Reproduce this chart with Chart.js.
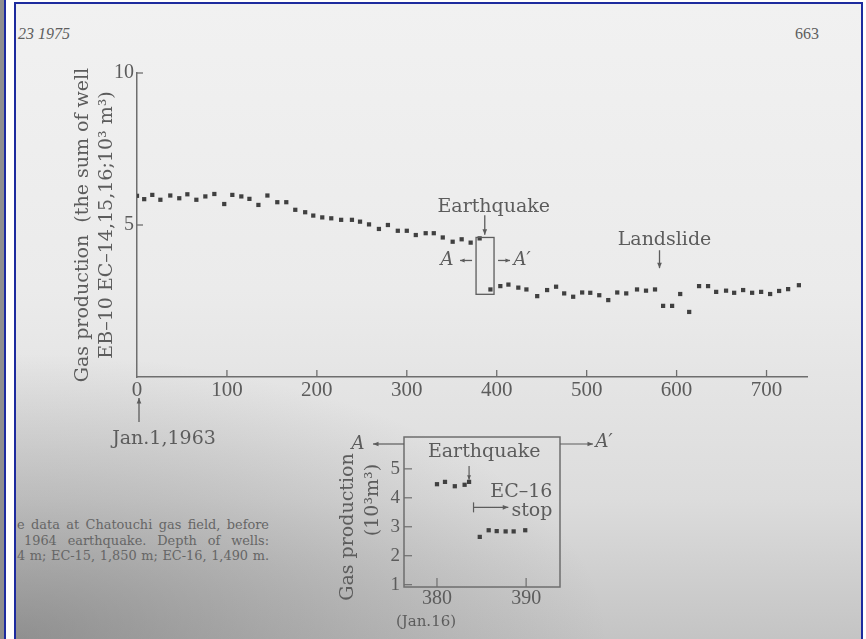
<!DOCTYPE html>
<html lang="en">
<head>
<meta charset="UTF-8">
<title>Gas production at Chatouchi gas field</title>
<script src="https://cdn.jsdelivr.net/npm/chart.js"></script>
<style>
  body { margin: 0; width: 866px; height: 639px; overflow: hidden; position: relative; background: #8e8e8e; }
  #frame { position: absolute; left: 4px; top: 0; width: 862px; height: 639px; background: #fff; border-left: 2px solid #1d2b9e; box-sizing: border-box; }
  #page {
    position: absolute; left: 14px; top: 2px; width: 849px; height: 637px; box-sizing: border-box;
    border: 2px solid #1d2b9e; border-bottom: none;
    background:
      radial-gradient(ellipse 70% 45% at 0% 100%, rgba(80,80,80,0.45) 0%, rgba(80,80,80,0) 100%),
      linear-gradient(to bottom, #f1f1f1 0%, #ebebeb 45%, #dcdcdc 78%, #c4c4c4 100%);
  }
  .txt { position: absolute; color: #5e5e5e; font-family: "Liberation Serif", serif; white-space: nowrap; }
  #caption { position: absolute; left: 1px; top: 513px; width: 252px; color: #666; font-family: "DejaVu Serif", serif; font-size: 12.9px; line-height: 15.5px; }
  #caption div { text-align: justify; text-align-last: justify; white-space: nowrap; }
  #mainChart { position: absolute; left: 0; top: 0; }
  #insetChart { position: absolute; left: 320px; top: 420px; }
</style>
</head>
<body>
<div id="frame"></div>
<div id="page">
  <div class="txt" style="left:2px; top:21px; font-size:16px; font-style:italic;">23 1975</div>
  <div class="txt" style="left:779px; top:21px; font-size:16px;">663</div>
  <div id="caption">
    <div>e data at Chatouchi gas field, before</div>
    <div style="padding-left:7px;">1964 earthquake. Depth of wells:</div>
    <div>4 m; EC-15, 1,850 m; EC-16, 1,490 m.</div>
  </div>
</div>
<canvas id="mainChart" width="866" height="639"></canvas>
<canvas id="insetChart" width="300" height="219"></canvas>

<script>
// main plot: production every ~10 days (x axis units as printed, 0 = Jan.1,1963)
const mainDays = [0, 8, 17, 26, 37, 47, 56, 66, 76, 86, 97, 106, 116, 125, 135, 145, 156, 166, 176, 187,
  196, 206, 216, 227, 239, 248, 258, 269, 279, 290, 300, 310, 321, 330, 340, 351, 361, 371, 381, 393,
  404, 413, 424, 433, 445, 456, 466, 475, 485, 495, 504, 514, 524, 534, 544, 556, 566, 576, 585, 595,
  604, 614, 625, 635, 644, 655, 664, 674, 684, 694, 704, 714, 724, 736];
const mainGas = [5.96, 5.85, 5.99, 5.83, 5.97, 5.88, 6.01, 5.83, 5.94, 6.02, 5.69, 5.99, 5.94, 5.86, 5.66, 5.97, 5.75, 5.75, 5.50, 5.42,
  5.31, 5.25, 5.22, 5.17, 5.17, 5.11, 5.02, 4.87, 5.00, 4.81, 4.81, 4.67, 4.73, 4.73, 4.59, 4.45, 4.53, 4.42, 4.56, 2.88,
  2.99, 3.04, 2.94, 2.88, 2.66, 2.86, 2.97, 2.75, 2.64, 2.78, 2.77, 2.69, 2.53, 2.78, 2.75, 2.88, 2.84, 2.88, 2.34, 2.34,
  2.73, 2.14, 2.99, 2.99, 2.80, 2.84, 2.77, 2.86, 2.77, 2.80, 2.73, 2.83, 2.89, 3.02];
const mainXTicks = [0, 100, 200, 300, 400, 500, 600, 700];
const mainYTicks = [5, 10];

// inset: daily values around the earthquake (Jan.16)
const insetDays = [380.0, 380.9, 382.0, 383.1, 383.6, 384.8, 385.8, 386.7, 387.7, 388.6, 389.9];
const insetGas = [4.47, 4.55, 4.40, 4.45, 4.55, 2.65, 2.88, 2.85, 2.84, 2.84, 2.88];
const insetXTicks = [380, 390];
const insetYTicks = [1, 2, 3, 4, 5];

// annotation anchors in data units
const quakeBox = { x0: 377, x1: 397, y0: 2.72, y1: 4.59 };
const quakeArrow = { x: 386.7, from: 5.32, to: 4.68 };
const slideArrow = { x: 581, from: 4.17, to: 3.58 };

const ink = '#5c5c5c';
const lineInk = '#6e6e6e';
const dotInk = '#404040';
const serif = '"DejaVu Serif", serif';
const numFont = '"Liberation Serif", serif';

function seg(ctx, x1, y1, x2, y2) {
  ctx.beginPath(); ctx.moveTo(x1, y1); ctx.lineTo(x2, y2); ctx.stroke();
}
function arrow(ctx, x1, y1, x2, y2, head) {
  head = head || 5;
  seg(ctx, x1, y1, x2, y2);
  const ang = Math.atan2(y2 - y1, x2 - x1);
  ctx.beginPath();
  ctx.moveTo(x2, y2);
  ctx.lineTo(x2 - head * Math.cos(ang - 0.4), y2 - head * Math.sin(ang - 0.4));
  ctx.lineTo(x2 - head * Math.cos(ang + 0.4), y2 - head * Math.sin(ang + 0.4));
  ctx.closePath(); ctx.fill();
}
function pts(xs, ys) {
  return xs.map((v, i) => ({ x: v, y: ys[i] }));
}

const mainDecor = {
  id: 'mainDecor',
  afterDraw(chart) {
    const { ctx, chartArea: a, scales: { x, y } } = chart;
    ctx.save();
    ctx.strokeStyle = lineInk; ctx.fillStyle = ink; ctx.lineWidth = 1.3;
    mainXTicks.forEach(v => {
      if (v === 0) return;
      const px = x.getPixelForValue(v);
      seg(ctx, px, a.bottom, px, a.bottom - 7);
    });
    mainYTicks.forEach(v => {
      const py = y.getPixelForValue(v);
      seg(ctx, a.left, py, a.left + 6, py);
    });

    // Jan.1,1963 marker
    const x0 = x.getPixelForValue(0);
    ctx.strokeStyle = ink;
    arrow(ctx, x0 + 2, a.bottom + 45, x0 + 2, a.bottom + 21, 6);
    ctx.font = '19px ' + serif; ctx.textAlign = 'center'; ctx.textBaseline = 'middle';
    ctx.fillText('Jan.1,1963', x0 + 27, a.bottom + 62);

    // earthquake box
    const bx0 = x.getPixelForValue(quakeBox.x0), bx1 = x.getPixelForValue(quakeBox.x1);
    const by0 = y.getPixelForValue(quakeBox.y0), by1 = y.getPixelForValue(quakeBox.y1);
    ctx.lineWidth = 1.3;
    ctx.strokeRect(bx0, by1, bx1 - bx0, by0 - by1);
    const qx = x.getPixelForValue(quakeArrow.x);
    arrow(ctx, qx, y.getPixelForValue(quakeArrow.from), qx, y.getPixelForValue(quakeArrow.to), 6);
    ctx.font = '19px ' + serif;
    ctx.fillText('Earthquake', qx + 9, y.getPixelForValue(quakeArrow.from) - 8);

    const midY = by1 + 23;
    arrow(ctx, bx0 - 4, midY, bx0 - 16, midY, 5);
    arrow(ctx, bx1 + 4, midY, bx1 + 16, midY, 5);
    ctx.font = 'italic 18px ' + serif;
    ctx.fillText('A', bx0 - 29, midY);
    ctx.fillText('A\u2032', bx1 + 28, midY);

    // landslide
    const sx = x.getPixelForValue(slideArrow.x);
    arrow(ctx, sx, y.getPixelForValue(slideArrow.from), sx, y.getPixelForValue(slideArrow.to), 6);
    ctx.font = '19px ' + serif;
    ctx.fillText('Landslide', sx + 5, y.getPixelForValue(slideArrow.from) - 10);
    ctx.restore();
  }
};

new Chart(document.getElementById('mainChart'), {
  type: 'scatter',
  data: {
    datasets: [{
      data: pts(mainDays, mainGas),
      pointStyle: 'rect',
      pointRadius: 3.0,
      backgroundColor: dotInk,
      borderWidth: 0
    }]
  },
  options: {
    responsive: false,
    animation: false,
    events: [],
    layout: { padding: { left: 60, top: 73, right: 59, bottom: 232 } },
    plugins: { legend: { display: false }, tooltip: { enabled: false } },
    scales: {
      x: {
        type: 'linear', min: 0, max: 745,
        afterBuildTicks: s => { s.ticks = mainXTicks.map(v => ({ value: v })); },
        afterFit: s => { s.height = 30; },
        grid: { display: false, drawTicks: false },
        border: { display: true, color: lineInk, width: 1.5 },
        ticks: { color: ink, font: { family: numFont, size: 21 }, padding: 1, maxRotation: 0, autoSkip: false }
      },
      y: {
        type: 'linear', min: 0, max: 10,
        afterBuildTicks: s => { s.ticks = mainYTicks.map(v => ({ value: v })); },
        afterFit: s => { s.width = 77; },
        grid: { display: false, drawTicks: false },
        border: { display: true, color: lineInk, width: 1.5 },
        ticks: { color: ink, font: { family: numFont, size: 20 }, padding: 3 },
        title: {
          display: true,
          text: ['Gas production  (the sum of well', 'EB\u201310 EC\u201314,15,16;10\u00b3 m\u00b3)'],
          color: ink,
          font: { family: serif, size: 19, lineHeight: 1.263 },
          padding: { top: 11, bottom: 0 }
        }
      }
    }
  },
  plugins: [mainDecor]
});

const insetDecor = {
  id: 'insetDecor',
  afterDraw(chart) {
    const { ctx, chartArea: a, scales: { x, y } } = chart;
    ctx.save();
    ctx.strokeStyle = lineInk; ctx.fillStyle = ink; ctx.lineWidth = 1.5;
    ctx.strokeRect(a.left, a.top, a.right - a.left, a.bottom - a.top);
    ctx.lineWidth = 1.2;
    insetYTicks.forEach(v => {
      const py = y.getPixelForValue(v);
      seg(ctx, a.left, py, a.left + 8, py);
    });
    insetXTicks.forEach(v => {
      const px = x.getPixelForValue(v);
      seg(ctx, px, a.bottom, px, a.bottom - 9);
    });

    // y title, set a little below the box centre as printed
    ctx.textAlign = 'center'; ctx.textBaseline = 'middle';
    ctx.font = '19px ' + serif;
    ctx.save();
    ctx.translate(a.left - 56, a.bottom - 60);
    ctx.rotate(-Math.PI / 2);
    ctx.fillText('Gas production', 0, 0);
    ctx.restore();
    ctx.save();
    ctx.translate(a.left - 31, a.bottom - 87);
    ctx.rotate(-Math.PI / 2);
    ctx.fillText('(10\u00b3m\u00b3)', 0, 0);
    ctx.restore();

    // A <-  box  -> A'
    const ay = a.top + 7;
    ctx.strokeStyle = ink;
    arrow(ctx, a.left, ay, a.left - 31, ay, 6);
    arrow(ctx, a.right, ay, a.right + 33, ay, 6);
    ctx.font = 'italic 18px ' + serif;
    ctx.fillText('A', a.left - 46, ay);
    ctx.fillText('A\u2032', a.right + 44, ay - 2);

    // earthquake label
    const ex = x.getPixelForValue(383.6);
    ctx.font = '19px ' + serif;
    ctx.fillText('Earthquake', x.getPixelForValue(385.3), y.getPixelForValue(5.59));
    arrow(ctx, ex, y.getPixelForValue(5.1), ex, y.getPixelForValue(4.62), 5);

    // EC-16 stop
    ctx.textAlign = 'right';
    ctx.fillText('EC\u201316', x.getPixelForValue(392.95), y.getPixelForValue(4.2));
    ctx.fillText('stop', x.getPixelForValue(392.95), y.getPixelForValue(3.55));
    const sy = y.getPixelForValue(3.67);
    const s0 = x.getPixelForValue(384.1);
    seg(ctx, s0, sy - 5, s0, sy + 5);
    arrow(ctx, s0, sy, x.getPixelForValue(388.0), sy, 6);

    ctx.textAlign = 'center';
    ctx.font = '15px ' + serif;
    ctx.fillText('(Jan.16)', x.getPixelForValue(380) - 11, a.bottom + 35);
    ctx.restore();
  }
};

new Chart(document.getElementById('insetChart'), {
  type: 'scatter',
  data: {
    datasets: [{
      data: pts(insetDays, insetGas),
      pointStyle: 'rect',
      pointRadius: 3.0,
      backgroundColor: dotInk,
      borderWidth: 0
    }]
  },
  options: {
    responsive: false,
    animation: false,
    events: [],
    layout: { padding: { left: 10, top: 17, right: 60, bottom: 28 } },
    plugins: { legend: { display: false }, tooltip: { enabled: false } },
    scales: {
      x: {
        type: 'linear', min: 376.3, max: 393.8,
        afterBuildTicks: s => { s.ticks = insetXTicks.map(v => ({ value: v })); },
        afterFit: s => { s.height = 24; },
        grid: { display: false, drawTicks: false },
        border: { display: false },
        ticks: { color: ink, font: { family: numFont, size: 20 }, padding: 0, maxRotation: 0, autoSkip: false }
      },
      y: {
        type: 'linear', min: 0.92, max: 6.1,
        afterBuildTicks: s => { s.ticks = insetYTicks.map(v => ({ value: v })); },
        afterFit: s => { s.width = 74; },
        grid: { display: false, drawTicks: false },
        border: { display: false },
        ticks: { color: ink, font: { family: numFont, size: 19 }, padding: 4 }
      }
    }
  },
  plugins: [insetDecor]
});
</script>
</body>
</html>
